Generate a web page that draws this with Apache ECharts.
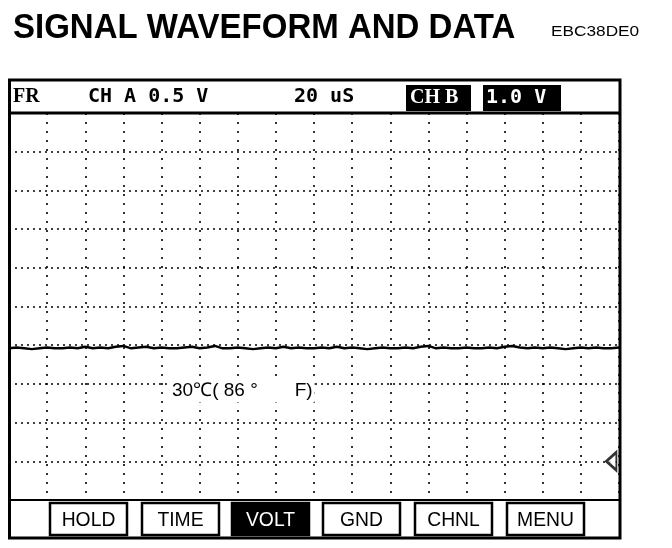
<!DOCTYPE html>
<html><head><meta charset="utf-8">
<script src="https://cdn.jsdelivr.net/npm/echarts@6/dist/echarts.min.js"></script>
<style>html,body{margin:0;padding:0;background:#fff}#c{width:672px;height:548px}</style>
</head><body><div id="c"></div>
<script>
// ---- data ----
const titleText = 'SIGNAL WAVEFORM AND DATA';
const codeText = 'EBC38DE0';
const headerFR = 'FR';
const headerChA = 'CH A 0.5 V';
const headerTime = '20 uS';
const headerChB = 'CH B';
const headerChBScale = '1.0 V';
const tempLabel = '30\u2103( 86 \u00b0       F)';
const buttonLabels = ['HOLD', 'TIME', 'VOLT', 'GND', 'CHNL', 'MENU'];
const activeButton = 'VOLT';

const timeMin = 0, timeMax = 320, timeStep = 20;      // µs, 20 µs/div
const voltMin = -0.5, voltMax = 4.5, voltStep = 0.5;  // V, 0.5 V/div
const groundMarker = [[316, 0]];

const sampleTimes = [0,4,8,12,16,20,24,28,32,36,40,44,48,52,56,60,64,68,72,76,
  80,84,88,92,96,100,104,108,112,116,120,124,128,132,136,140,144,148,152,156,
  160,164,168,172,176,180,184,188,192,196,200,204,208,212,216,220,224,228,232,236,
  240,244,248,252,256,260,264,268,272,276,280,284,288,292,296,300,304,308,312,316,320];
const sampleVolts = [1.46,1.47,1.46,1.45,1.46,1.47,1.46,1.46,1.47,1.46,
  1.48,1.46,1.47,1.46,1.48,1.49,1.46,1.47,1.48,1.46,
  1.47,1.46,1.46,1.47,1.48,1.46,1.47,1.49,1.46,1.46,
  1.47,1.46,1.45,1.46,1.47,1.46,1.48,1.46,1.47,1.46,
  1.46,1.47,1.46,1.48,1.46,1.47,1.46,1.45,1.46,1.47,
  1.46,1.46,1.47,1.46,1.48,1.49,1.46,1.47,1.46,1.46,
  1.47,1.46,1.46,1.47,1.46,1.48,1.49,1.47,1.46,1.47,
  1.46,1.47,1.46,1.45,1.46,1.47,1.46,1.47,1.46,1.46,1.47];

// ---- chart ----
const chart = echarts.init(document.getElementById('c'), null, {renderer: 'canvas'});
const signal = sampleTimes.map((t, i) => [t, sampleVolts[i]]);

const sans = '"Liberation Sans", Arial, sans-serif';
const mono = '"DejaVu Sans Mono", monospace';
const serif = '"Liberation Serif", "DejaVu Serif", serif';

const btnX = [50, 142, 232, 323, 415, 507];
const buttonGraphics = [];
buttonLabels.forEach((b, i) => {
  const active = b === activeButton;
  buttonGraphics.push({
    type: 'rect', shape: {x: btnX[i], y: 503, width: 77, height: 32},
    style: {fill: active ? '#000' : '#fff', stroke: '#000', lineWidth: 2.5}, z: 10
  });
  buttonGraphics.push({
    type: 'text', x: btnX[i] + 38.5, y: 520, scaleX: 0.92,
    style: {text: b, fill: active ? '#fff' : '#000', font: '21px ' + sans,
      textAlign: 'center', textVerticalAlign: 'middle'}, z: 11
  });
});

chart.setOption({
  animation: false,
  backgroundColor: '#fff',
  grid: {left: 9, top: 113, width: 610, height: 387, show: false},
  xAxis: {
    type: 'value', min: timeMin, max: timeMax, interval: timeStep,
    axisLine: {show: false}, axisTick: {show: false}, axisLabel: {show: false},
    splitLine: {show: true, lineStyle: {color: '#000', width: 1.6, type: [2, 7]}}
  },
  yAxis: {
    type: 'value', min: voltMin, max: voltMax, interval: voltStep,
    axisLine: {show: false}, axisTick: {show: false}, axisLabel: {show: false},
    splitLine: {show: true, lineStyle: {color: '#000', width: 1.6, type: [2, 4]}}
  },
  series: [
    {type: 'line', data: signal, showSymbol: false, symbol: 'none',
      lineStyle: {color: '#000', width: 2.4}, z: 5},
    {type: 'scatter', data: groundMarker,
      symbol: 'path://M0,10 L12,0 L12,20 Z', symbolSize: [10, 18],
      itemStyle: {color: '#fff', borderColor: '#000', borderWidth: 2.5}, z: 6}
  ],
  graphic: [
    {type: 'text', x: 13, y: 10, scaleY: 1.08, style: {text: titleText, font: 'bold 33px ' + sans, fill: '#000', textVerticalAlign: 'top'}},
    {type: 'text', x: 551, y: 32, scaleX: 1.15, style: {text: codeText, font: '15px ' + sans, fill: '#000', textVerticalAlign: 'middle'}},
    // frame
    {type: 'rect', shape: {x: 9.5, y: 80, width: 610.5, height: 458}, style: {fill: null, stroke: '#000', lineWidth: 3}, z: 9},
    {type: 'line', shape: {x1: 9, y1: 113, x2: 620, y2: 113}, style: {stroke: '#000', lineWidth: 3}, z: 9},
    {type: 'line', shape: {x1: 9, y1: 500, x2: 620, y2: 500}, style: {stroke: '#000', lineWidth: 2}, z: 9},
    // header
    {type: 'text', x: 13, y: 97, style: {text: headerFR, font: 'bold 20px ' + serif, fill: '#000', textVerticalAlign: 'middle'}, z: 10},
    {type: 'text', x: 88, y: 97, style: {text: headerChA, font: 'bold 20px ' + mono, fill: '#000', textVerticalAlign: 'middle'}, z: 10},
    {type: 'text', x: 294, y: 97, style: {text: headerTime, font: 'bold 20px ' + mono, fill: '#000', textVerticalAlign: 'middle'}, z: 10},
    {type: 'rect', shape: {x: 406, y: 85, width: 65, height: 26}, style: {fill: '#000'}, z: 10},
    {type: 'text', x: 410, y: 98, style: {text: headerChB, font: 'bold 20px ' + serif, fill: '#fff', textVerticalAlign: 'middle'}, z: 11},
    {type: 'rect', shape: {x: 483, y: 85, width: 78, height: 26}, style: {fill: '#000'}, z: 10},
    {type: 'text', x: 486, y: 98, style: {text: headerChBScale, font: 'bold 20px ' + mono, fill: '#fff', textVerticalAlign: 'middle'}, z: 11},
    // temperature label
    {type: 'text', x: 170, y: 391, style: {text: tempLabel, font: '19px ' + sans, fill: '#000', textVerticalAlign: 'middle',
      backgroundColor: '#fff', padding: [2, 2]}, z: 10}
  ].concat(buttonGraphics)
});
</script></body></html>
